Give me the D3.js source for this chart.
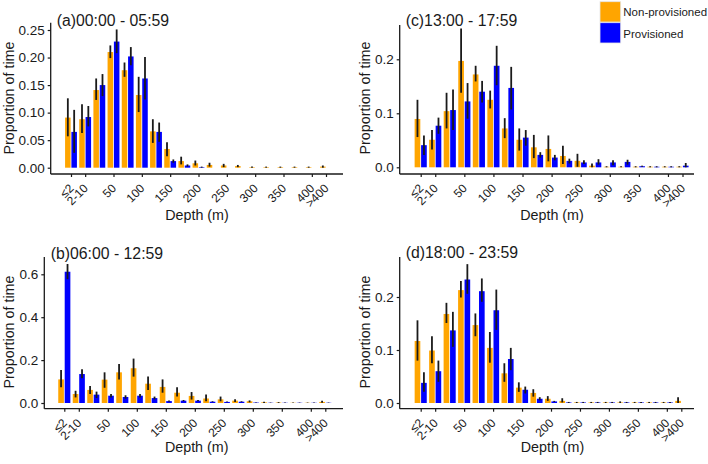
<!DOCTYPE html>
<html><head><meta charset="utf-8">
<script src="https://cdn.jsdelivr.net/npm/d3@7"></script>
<style>
body{margin:0;background:#fff}
svg{display:block}
text{font-family:"Liberation Sans",Arial,sans-serif;fill:#1a1a1a}
</style>
</head><body>
<svg id="chart" width="708" height="464"></svg>
<script>
// Depth bins (upper bound of each bin, m)
const categories = ["≤2","2-10","25","50","75","100","125","150","175","200","225","250","275","300","325","350","375","400",">400"];
const tickLabels = ["≤2","2-10","50","100","150","200","250","300","350","400",">400"];
const seriesNames = ["Non-provisioned","Provisioned"];

// (a) 00:00 - 05:59
const npA    = [0.091,0.088,0.141,0.210,0.177,0.132,0.066,0.034,0.012,0.008,0.005,0.004,0.003,0.001,0.001,0.001,0.001,0.001,0.002];
const npA_lo = [0.057,0.063,0.123,0.199,0.165,0.101,0.045,0.021,0.006,0.004,0.002,0.001,0.001,0,0,0,0,0,0];
const npA_hi = [0.126,0.115,0.162,0.222,0.191,0.165,0.088,0.046,0.020,0.013,0.009,0.007,0.005,0.002,0.002,0.002,0.002,0.002,0.004];
const pvA    = [0.065,0.092,0.150,0.229,0.202,0.162,0.065,0.012,0.004,0.001,0,0,0,0,0,0,0,0,0];
const pvA_lo = [0.027,0.075,0.130,0.208,0.186,0.124,0.047,0.009,0.002,0,0,0,0,0,0,0,0,0,0];
const pvA_hi = [0.105,0.112,0.170,0.251,0.219,0.201,0.082,0.015,0.006,0.002,0,0,0,0,0,0,0,0,0];

// (b) 06:00 - 12:59
const npB    = [0.110,0.042,0.061,0.109,0.143,0.162,0.090,0.075,0.048,0.033,0.021,0.017,0.011,0.008,0.003,0.002,0.001,0.001,0.005];
const npB_lo = [0.073,0.026,0.042,0.071,0.110,0.123,0.061,0.048,0.030,0.016,0.008,0.008,0.005,0.003,0,0,0,0,0.001];
const npB_hi = [0.154,0.057,0.079,0.143,0.182,0.207,0.123,0.110,0.073,0.051,0.040,0.030,0.017,0.012,0.006,0.004,0.002,0.002,0.011];
const pvB    = [0.612,0.135,0.039,0.034,0.028,0.034,0.023,0.009,0.011,0.011,0.006,0.005,0.006,0.002,0.001,0.001,0.001,0.001,0.001];
const pvB_lo = [0.577,0.115,0.023,0.026,0.020,0.026,0.017,0.006,0.008,0.008,0.004,0.003,0.004,0.001,0,0,0,0,0];
const pvB_hi = [0.648,0.157,0.053,0.042,0.036,0.042,0.030,0.012,0.014,0.014,0.008,0.007,0.008,0.003,0.002,0.002,0.002,0.002,0.002];

// (c) 13:00 - 17:59
const npC    = [0.0895,0.051,0.104,0.197,0.172,0.125,0.072,0.051,0.037,0.034,0.021,0.012,0.003,0.001,0.001,0.001,0.001,0.001,0.001];
const npC_lo = [0.056,0.033,0.072,0.138,0.159,0.109,0.054,0.031,0.017,0.011,0.006,0.001,0,0,0,0,0,0,0];
const npC_hi = [0.125,0.069,0.138,0.257,0.188,0.142,0.091,0.072,0.060,0.059,0.040,0.025,0.007,0.002,0.002,0.002,0.002,0.002,0.002];
const pvC    = [0.041,0.077,0.106,0.122,0.140,0.188,0.147,0.055,0.023,0.018,0.012,0.009,0.009,0.009,0.010,0.002,0.001,0.001,0.003];
const pvC_lo = [0.023,0.062,0.069,0.090,0.120,0.152,0.107,0.040,0.018,0.013,0.007,0.006,0.005,0.004,0.005,0.001,0,0,0];
const pvC_hi = [0.059,0.092,0.144,0.156,0.160,0.225,0.186,0.069,0.028,0.023,0.016,0.013,0.015,0.013,0.014,0.003,0.002,0.002,0.008];

// (d) 18:00 - 23:59
const npD    = [0.117,0.099,0.168,0.213,0.147,0.104,0.056,0.029,0.019,0.008,0.004,0.001,0.001,0.001,0.001,0.001,0.001,0.001,0.004];
const npD_lo = [0.080,0.075,0.151,0.199,0.126,0.076,0.040,0.021,0.012,0.004,0.001,0,0,0,0,0,0,0,0];
const npD_hi = [0.156,0.126,0.189,0.230,0.169,0.134,0.075,0.039,0.026,0.013,0.009,0.002,0.002,0.002,0.003,0.002,0.002,0.002,0.011];
const pvD    = [0.038,0.060,0.137,0.233,0.211,0.175,0.083,0.025,0.008,0.003,0.001,0.001,0.001,0.001,0.001,0.001,0.001,0.001,0];
const pvD_lo = [0.021,0.040,0.106,0.206,0.191,0.138,0.062,0.018,0.005,0.002,0,0,0,0,0,0,0,0,0];
const pvD_hi = [0.058,0.080,0.172,0.262,0.235,0.214,0.104,0.031,0.011,0.004,0.002,0.002,0.002,0.002,0.002,0.002,0.002,0.002,0];

const colors = ["#FFA500","#0000FF"];

const panels = [
  {title:"(a)00:00 - 05:59", np:[npA,npA_lo,npA_hi], pv:[pvA,pvA_lo,pvA_hi],
   x0:50.7, x1:343, c0:71, cN:326, yTop:22.7, yBot:174, yMax:0.25, yAt0:167.7, yAtMax:30,
   yTicks:[0,0.05,0.10,0.15,0.20,0.25], fmt:".2f", tx:56.7, ty:26, ylx:9, yly:98, xlx:197, xly:220},
  {title:"(b)06:00 - 12:59", np:[npB,npB_lo,npB_hi], pv:[pvB,pvB_lo,pvB_hi],
   x0:44.3, x1:343, c0:64.3, cN:325.3, yTop:257, yBot:408.7, yMax:0.6, yAt0:403, yAtMax:274.3,
   yTicks:[0,0.2,0.4,0.6], fmt:".1f", tx:50.7, ty:258.5, ylx:9, yly:332, xlx:196.7, xly:452},
  {title:"(c)13:00 - 17:59", np:[npC,npC_lo,npC_hi], pv:[pvC,pvC_lo,pvC_hi],
   x0:399.7, x1:694, c0:420.7, cN:682.5, yTop:25, yBot:174, yMax:0.2, yAt0:167.3, yAtMax:59.3,
   yTicks:[0,0.1,0.2], fmt:".1f", tx:405.7, ty:26, ylx:364.5, yly:98, xlx:552, xly:220},
  {title:"(d)18:00 - 23:59", np:[npD,npD_lo,npD_hi], pv:[pvD,pvD_lo,pvD_hi],
   x0:399.7, x1:694, c0:420.7, cN:681.3, yTop:257, yBot:408.7, yMax:0.2, yAt0:403, yAtMax:297,
   yTicks:[0,0.1,0.2], fmt:".1f", tx:405.7, ty:258, ylx:364.5, yly:332, xlx:552.5, xly:452}
];

const svg = d3.select("#chart");

panels.forEach(p => {
  const g = svg.append("g");
  const x = d3.scalePoint().domain(categories).range([p.c0, p.cN]);
  const step = x.step();
  const bw = step * 0.39;
  const y = d3.scaleLinear().domain([0, p.yMax]).range([p.yAt0, p.yAtMax]);

  const series = [p.np, p.pv];
  series.forEach((s, si) => {
    const [vals, lo, hi] = s;
    const off = si === 0 ? -bw - 0.4 : 0.4;
    const rows = categories.map((c, i) => ({c, v: vals[i], lo: lo[i], hi: hi[i]}));
    g.append("g").selectAll("rect").data(rows).join("rect")
      .attr("x", d => x(d.c) + off)
      .attr("width", bw)
      .attr("y", d => y(d.v))
      .attr("height", d => Math.max(0, y(0) - y(d.v)))
      .attr("fill", colors[si]);
    g.append("g").selectAll("line").data(rows.filter(d => d.hi > d.lo)).join("line")
      .attr("x1", d => x(d.c) + off + bw / 2)
      .attr("x2", d => x(d.c) + off + bw / 2)
      .attr("y1", d => y(d.lo))
      .attr("y2", d => y(d.hi))
      .attr("stroke", "#1a1a1a")
      .attr("stroke-width", 1.8);
  });

  // y axis
  const ya = g.append("g").attr("transform", `translate(${p.x0},0)`)
    .call(d3.axisLeft(y).tickValues(p.yTicks).tickFormat(d3.format(p.fmt)).tickSize(3).tickPadding(3));
  ya.select(".domain").remove();
  ya.selectAll("line").attr("stroke", "#1a1a1a").attr("stroke-width", 1.2);
  ya.selectAll("text").style("font-size", "13.5px").attr("fill", "#1a1a1a")
    .style("font-family", '"Liberation Sans",Arial,sans-serif');
  g.append("line").attr("x1", p.x0).attr("x2", p.x0).attr("y1", p.yTop).attr("y2", p.yBot)
    .attr("stroke", "#1a1a1a").attr("stroke-width", 1.3);

  // x axis
  const xa = g.append("g").attr("transform", `translate(0,${p.yBot})`)
    .call(d3.axisBottom(x).tickValues(tickLabels).tickSize(3));
  xa.select(".domain").remove();
  xa.selectAll("line").attr("stroke", "#1a1a1a").attr("stroke-width", 1.2);
  xa.selectAll("text")
    .attr("x", null).attr("y", null).attr("dy", null)
    .attr("text-anchor", "end")
    .attr("transform", "translate(3,15) rotate(-45)")
    .attr("fill", "#1a1a1a")
    .style("font-size", "12px")
    .style("font-family", '"Liberation Sans",Arial,sans-serif');
  g.append("line").attr("x1", p.x0).attr("x2", p.x1).attr("y1", p.yBot).attr("y2", p.yBot)
    .attr("stroke", "#1a1a1a").attr("stroke-width", 1.3);

  // titles
  g.append("text").attr("x", p.tx).attr("y", p.ty).style("font-size", "15.8px").text(p.title);
  g.append("text").attr("transform", `translate(${p.ylx},${p.yly}) rotate(-90)`)
    .attr("text-anchor", "middle").attr("dy", "0.35em").style("font-size", "14.3px").text("Proportion of time");
  g.append("text").attr("x", p.xlx).attr("y", p.xly).attr("text-anchor", "middle")
    .style("font-size", "14.3px").text("Depth (m)");
});

// legend
const lg = svg.append("g");
seriesNames.forEach((n, i) => {
  lg.append("rect").attr("x", 600).attr("y", 1.7 + i * 21).attr("width", 20.7).attr("height", 20.3)
    .attr("fill", colors[i]).attr("stroke", "#e6e6e6").attr("stroke-width", 0.8);
  lg.append("text").attr("x", 623.3).attr("y", 12 + i * 21.5).attr("dy", "0.35em")
    .style("font-size", "11.5px").text(n);
});
</script>
</body></html>
